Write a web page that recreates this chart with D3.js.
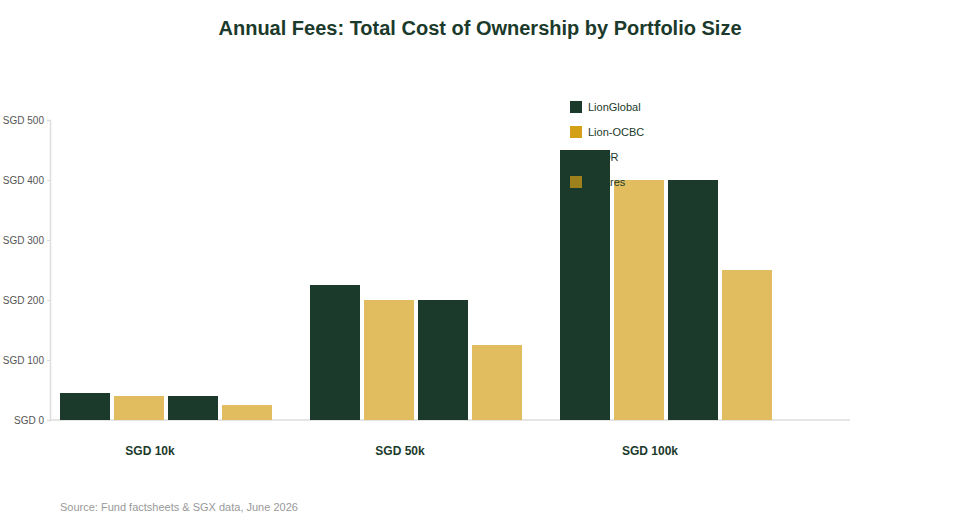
<!DOCTYPE html>
<html>
<head>
<meta charset="utf-8">
<script src="https://cdn.jsdelivr.net/npm/d3@7/dist/d3.min.js"></script>
<style>
  body { margin: 0; background: #fff; font-family: "Liberation Sans", Arial, Helvetica, sans-serif; }
</style>
</head>
<body>
<div id="chart"></div>
<script>
var groups = ['SGD 10k', 'SGD 50k', 'SGD 100k'];
var providers = ['LionGlobal', 'Lion-OCBC', 'SPDR', 'iShares'];
var lionGlobal = [45, 225, 450];
var lionOCBC = [40, 200, 400];
var spdr = [40, 200, 400];
var iShares = [25, 125, 250];
var yTicks = [0, 100, 200, 300, 400, 500];

var seriesValues = [lionGlobal, lionOCBC, spdr, iShares];
var barColors = ['#1b3a2b', '#e1bd5f', '#1b3a2b', '#e1bd5f'];
var swatchColors = ['#1b3a2b', '#d4a017', '#1b3a2b', '#d4a017'];
var swatchOpacity = [1, 1, 1, 0.7];

var width = 960, height = 520;

var svg = d3.select('#chart').append('svg')
  .attr('width', width)
  .attr('height', height);

// title
svg.append('text')
  .attr('x', width / 2)
  .attr('y', 35)
  .attr('text-anchor', 'middle')
  .attr('font-size', '20px')
  .attr('font-weight', 'bold')
  .attr('fill', '#1b3a2b')
  .text('Annual Fees: Total Cost of Ownership by Portfolio Size');

var y = d3.scaleLinear().domain([0, 500]).range([420, 120]);

var x0 = d3.scaleBand().domain(groups).range([50, 800]);
var x1 = d3.scaleBand().domain(providers).range([10, 222]).paddingInner(0.0741);

// y axis
var yAxis = svg.append('g')
  .attr('transform', 'translate(50,0)')
  .call(d3.axisLeft(y).tickValues(yTicks).tickSize(3).tickFormat(function(d) { return 'SGD ' + d; }));
yAxis.select('.domain').attr('stroke', '#ddd').attr('stroke-width', 1.5);
yAxis.selectAll('.tick line').attr('stroke', '#ddd');
yAxis.selectAll('.tick text')
  .attr('fill', '#555')
  .attr('font-size', '10px')
  .attr('font-family', '"Liberation Sans", Arial, sans-serif');

// x axis line
svg.append('line')
  .attr('x1', 50).attr('x2', 850)
  .attr('y1', y(0)).attr('y2', y(0))
  .attr('stroke', '#ddd')
  .attr('stroke-width', 1.5);

// bars
var groupG = svg.selectAll('.group')
  .data(groups)
  .enter().append('g')
  .attr('class', 'group')
  .attr('transform', function(d) { return 'translate(' + x0(d) + ',0)'; });

groupG.selectAll('rect')
  .data(function(d, gi) { return providers.map(function(p, si) { return { p: p, si: si, v: seriesValues[si][gi] }; }); })
  .enter().append('rect')
  .attr('x', function(d) { return x1(d.p); })
  .attr('width', x1.bandwidth())
  .attr('y', function(d) { return y(d.v); })
  .attr('height', function(d) { return y(0) - y(d.v); })
  .attr('fill', function(d) { return barColors[d.si]; });

// legend, on top of the bars
var legend = svg.append('g');
providers.forEach(function(p, i) {
  var g = legend.append('g').attr('transform', 'translate(570,' + (101 + i * 25) + ')');
  g.append('rect').attr('width', 12).attr('height', 12)
    .attr('fill', swatchColors[i]).attr('fill-opacity', swatchOpacity[i]);
  g.append('text').attr('x', 18).attr('y', 10)
    .attr('font-size', '11px').attr('fill', '#1b3a2b').text(p);
});

// group labels
svg.selectAll('.glabel')
  .data(groups)
  .enter().append('text')
  .attr('x', function(d) { return x0(d) + 100; })
  .attr('y', 455)
  .attr('text-anchor', 'middle')
  .attr('font-size', '12px')
  .attr('font-weight', 'bold')
  .attr('fill', '#1b3a2b')
  .text(function(d) { return d; });

// source
svg.append('text')
  .attr('x', 60)
  .attr('y', 511)
  .attr('font-size', '11px')
  .attr('fill', '#999')
  .text('Source: Fund factsheets & SGX data, June 2026');
</script>
</body>
</html>
